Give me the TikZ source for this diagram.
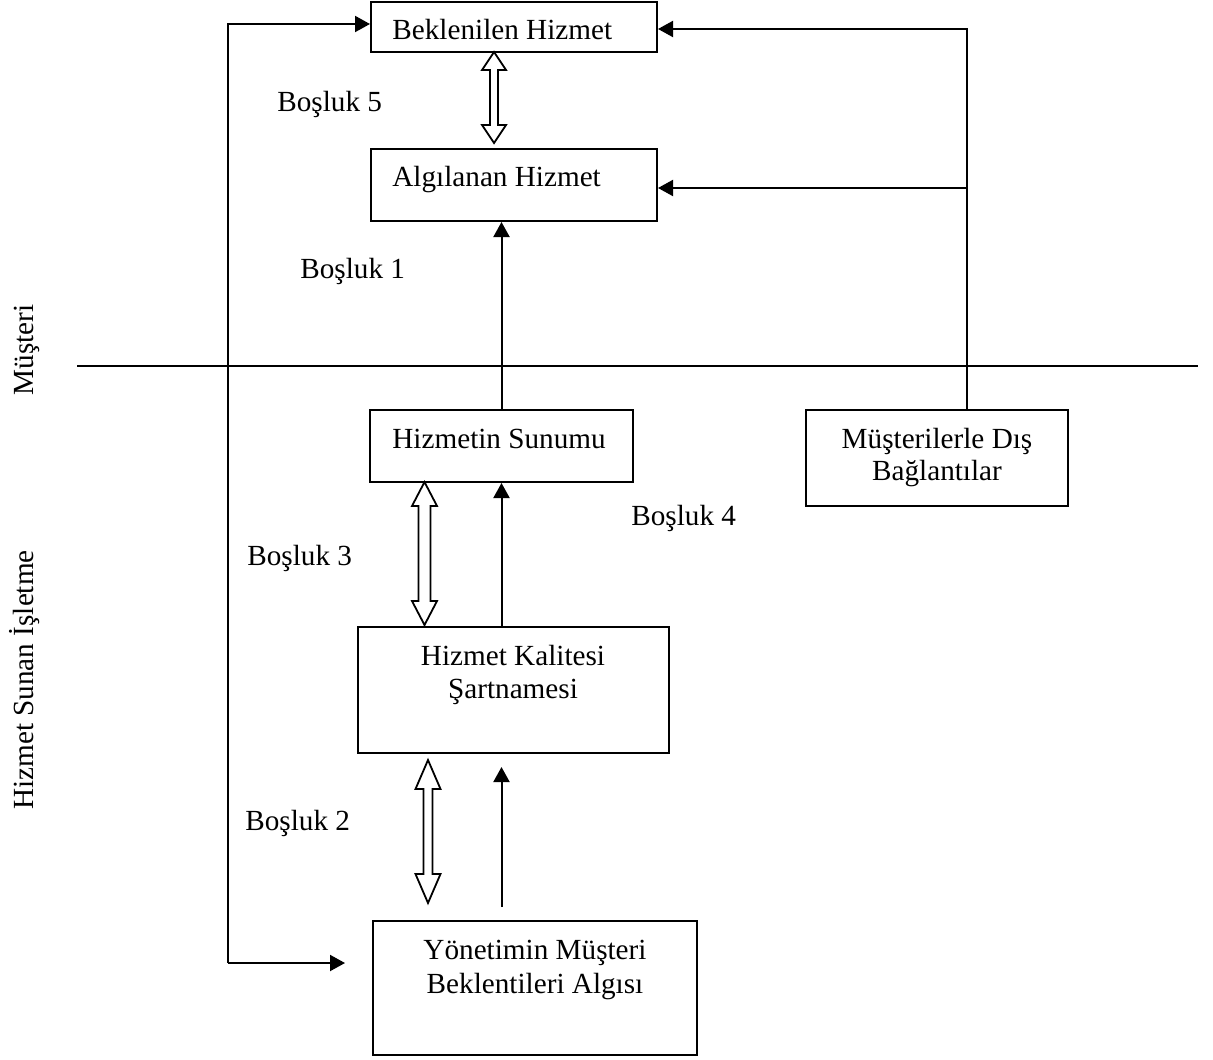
\documentclass[tikz,border=0pt]{standalone}
\usepackage{fontspec}
\setmainfont{Liberation Serif}
\usetikzlibrary{arrows.meta,calc}

% hollow double-headed arrow: centre x, top y, bottom y, head length, head half-width, shaft half-width
\newcommand{\hollowdbl}[6]{%
  \draw[hollow] (#1,#2) -- (#1+#5,#2+#4) -- (#1+#6,#2+#4) -- (#1+#6,#3-#4)
    -- (#1+#5,#3-#4) -- (#1,#3) -- (#1-#5,#3-#4) -- (#1-#6,#3-#4)
    -- (#1-#6,#2+#4) -- (#1-#5,#2+#4) -- cycle;}

\begin{document}
\begin{tikzpicture}[x=0.5pt,y=-0.5pt,
  box/.style={draw,line width=1pt,minimum width=#1,inner sep=0pt},
  txt/.style={inner sep=0pt,font=\fontsize{14.6}{16.5}\selectfont},
  arr/.style={line width=1pt,-{Triangle[length=7.5pt,width=8pt]}},
  hollow/.style={line width=0.9pt,fill=white,line join=miter},
  rule/.style={line width=1pt}]
  \useasboundingbox (0,0) rectangle (1213,1059);

  % boxes
  \node[box=143pt,minimum height=25pt] (bek) at (514,27) {};
  \node[box=143pt,minimum height=36pt] (alg) at (514,185) {};
  \node[box=131.5pt,minimum height=36pt] (hs) at (501.5,446) {};
  \node[box=131pt,minimum height=48pt] (mdb) at (937,458) {};
  \node[box=155.5pt,minimum height=63pt] (hks) at (513.5,690) {};
  \node[box=162pt,minimum height=67pt] (yon) at (535,988) {};

  % box texts
  \node[txt,anchor=base west] (tbek) at (392,40) {Beklenilen Hizmet};
  \node[txt,anchor=base west] (talg) at (392,187) {Algılanan Hizmet};
  \node[txt,anchor=base west] (ths) at (392,448) {Hizmetin Sunumu};
  \node[txt,anchor=base] (tmdb1) at (937,448) {Müşterilerle Dış};
  \node[txt,anchor=base] (tmdb2) at (937,480) {Bağlantılar};
  \node[txt,anchor=base] (thks1) at (513,665) {Hizmet Kalitesi};
  \node[txt,anchor=base] (thks2) at (513,698) {Şartnamesi};
  \node[txt,anchor=base] (tyon1) at (535,959) {Yönetimin Müşteri};
  \node[txt,anchor=base] (tyon2) at (535,993) {Beklentileri Algısı};

  % gap labels
  \node[txt,anchor=base west] (g5) at (277,112) {Boşluk 5};
  \node[txt,anchor=base west] (g1) at (300,278) {Boşluk 1};
  \node[txt,anchor=base west] (g4) at (631,525) {Boşluk 4};
  \node[txt,anchor=base west] (g3) at (247,565) {Boşluk 3};
  \node[txt,anchor=base west] (g2) at (245,830) {Boşluk 2};

  % side labels
  \node[txt,anchor=base,rotate=90] (side1) at (33,350) {Müşteri};
  \node[txt,anchor=base,rotate=90] (side2) at (33,680) {Hizmet Sunan İşletme};

  % customer / provider divider
  \coordinate (dl) at (77,366);
  \coordinate (dr) at (1198,366);
  \draw[rule] (dl) -- (dr);

  % left feedback loop
  \coordinate (lt) at (228,24);
  \coordinate (lb) at (228,963);
  \draw[arr] (lb) -- (lt) -- (lt -| bek.west);
  \draw[arr,shorten >=13.5pt] (lb) -- (lb -| yon.west);

  % external communications
  \coordinate (rt) at (967,29);
  \coordinate (rm) at (967,188);
  \draw[arr] (rt |- mdb.north) -- (rt) -- (rt -| bek.east);
  \draw[arr] (rm) -- (rm -| alg.east);

  % upward flow
  \draw[arr] (hs.north) -- (hs.north |- alg.south);
  \draw[arr] (hks.north -| hs.south) -- (hs.south);
  \draw[arr,shorten <=6.5pt,shorten >=6.5pt] (yon.north -| hs.south) -- (hks.south -| hs.south);

  % gaps
  \hollowdbl{494}{52}{143}{18}{12}{4}
  \hollowdbl{424.5}{482}{625}{24}{12.5}{6}
  \hollowdbl{428}{760}{903}{29}{12.5}{4.5}
\end{tikzpicture}
\end{document}
